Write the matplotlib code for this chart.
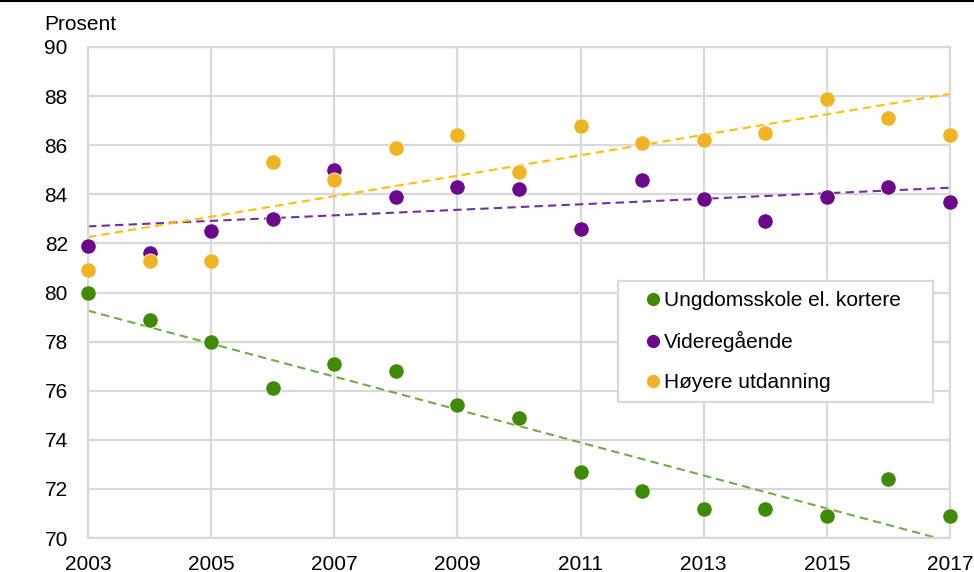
import matplotlib
matplotlib.use('Agg')
import matplotlib.pyplot as plt
from matplotlib.lines import Line2D
from matplotlib.patches import Rectangle
import numpy as np

plt.rcParams['font.family'] = ['Liberation Sans', 'DejaVu Sans']

years = list(range(2003, 2018))
ungdomsskole = [80.0, 78.9, 78.0, 76.1, 77.1, 76.8, 75.4, 74.9, 72.7, 71.9, 71.2, 71.2, 70.9, 72.4, 70.9]
videregaende = [81.9, 81.6, 82.5, 83.0, 85.0, 83.9, 84.3, 84.2, 82.6, 84.6, 83.8, 82.9, 83.9, 84.3, 83.7]
hoyere = [80.9, 81.3, 81.3, 85.3, 84.6, 85.9, 86.4, 84.9, 86.8, 86.1, 86.2, 86.5, 87.9, 87.1, 86.4]

series = [
    ('Ungdomsskole el. kortere', ungdomsskole, '#3f8a06', '#70ad47'),
    ('Videregående', videregaende, '#6a0a8a', '#7030a0'),
    ('Høyere utdanning', hoyere, '#f0b323', '#ffc000'),
]

fig = plt.figure(figsize=(9.74, 5.72), dpi=100)
ax = fig.add_axes([88 / 974, 1 - 538 / 572, (950 - 88) / 974, (538 - 47) / 572])

x = np.array(years, dtype=float)
# linear trend lines under the dots
for name, vals, color, tcolor in series:
    k, m = np.polyfit(x, vals, 1)
    xs = np.array([x[0], x[-1]])
    ax.plot(xs, k * xs + m, linestyle=(0, (4, 2.5)), color=tcolor, lw=1.5, zorder=2)

handles = []
for name, vals, color, tcolor in series:
    ax.plot(x, vals, 'o', color=color, ms=11, mec='white', mew=0.5, clip_on=False, zorder=3)
    handles.append(Line2D([], [], marker='o', ls='', color=color, ms=8.5, label=name))

ax.set_xlim(2003, 2017)
ax.set_ylim(70, 90)
ax.set_xticks(range(2003, 2018, 2))
ax.set_yticks(range(70, 91, 2))
ax.grid(True, color='#d9d9d9', lw=1.6)
ax.set_axisbelow(True)
for s in ax.spines.values():
    s.set_color('#d9d9d9')
    s.set_linewidth(1.6)
ax.tick_params(length=0, labelsize=15, colors='black')
ax.tick_params(axis='x', pad=12)
ax.tick_params(axis='y', pad=14.5)

fig.text(44 / 974, 1 - 24.5 / 572, 'Prosent', fontsize=15, ha='left', va='center')

# legend box (drawn inside the axes so the legend sits on top)
box = Rectangle((618 / 974, 1 - 402 / 572), (933 - 618) / 974, (402 - 281) / 572,
                transform=fig.transFigure, facecolor='white', edgecolor='#d9d9d9', lw=1.6,
                zorder=5, clip_on=False)
ax.add_artist(box)
leg = ax.legend(handles=handles, loc='upper left', bbox_to_anchor=(645 / 974, 1 - 291.5 / 572),
                bbox_transform=fig.transFigure, fontsize=15, frameon=False,
                handlelength=0.8, handletextpad=0.1, labelspacing=1.0, borderpad=0,
                borderaxespad=0)
leg.set_zorder(6)

fig.add_artist(Line2D([0, 1], [1 - 1 / 572, 1 - 1 / 572], transform=fig.transFigure, color='black', lw=1.5))

fig.savefig('out.png', dpi=100)
